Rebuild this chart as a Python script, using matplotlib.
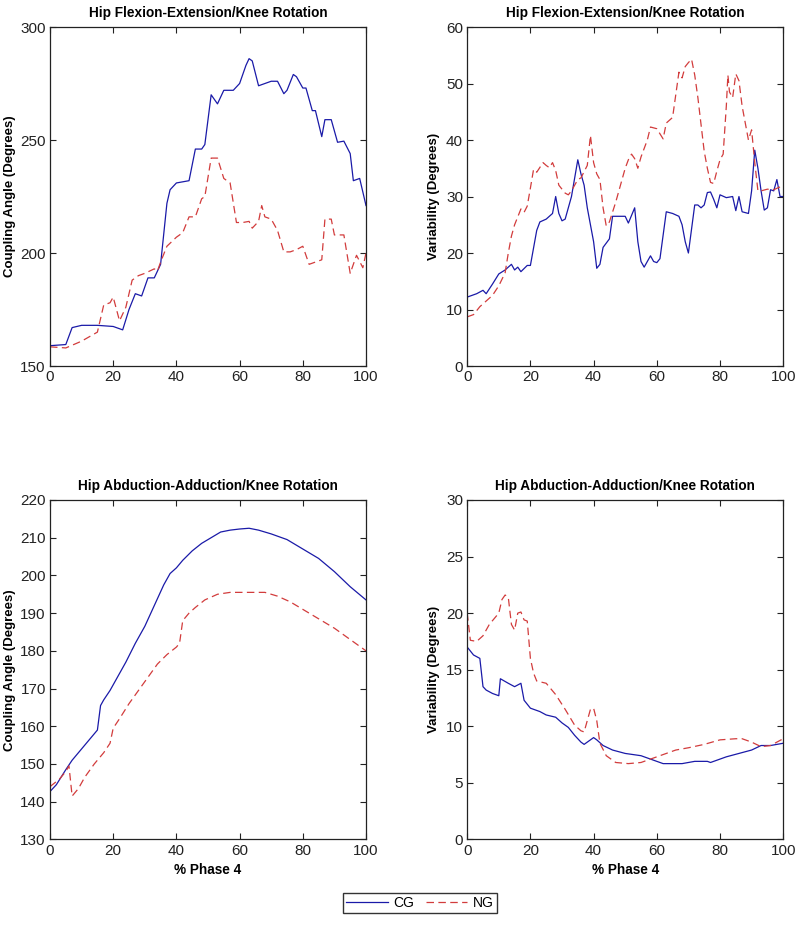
import numpy as np
import matplotlib
matplotlib.use('Agg')
import matplotlib.pyplot as plt

plt.rcParams['font.family'] = ['Liberation Sans', 'DejaVu Sans']

# Hip flexion-extension / knee rotation, coupling angle
fe_ca_cg_x = [0, 5, 7, 10, 15, 20, 23, 25, 27, 29, 31, 33, 35, 37, 38, 40, 42, 44, 46, 48, 49,
              51, 53, 55, 58, 60, 62, 63, 64, 66, 70, 72, 74, 75, 77, 78, 80, 81, 83, 84, 86,
              87, 89, 91, 93, 95, 96, 98, 100]
fe_ca_cg_y = [159, 159.5, 167, 168, 168, 167.5, 166, 175, 182, 181, 189, 189, 195, 222, 228, 231,
              231.5, 232, 246, 246, 248, 270, 266, 272, 272, 275, 283, 286, 285, 274, 276, 276,
              270.5, 272, 279, 278, 273, 273, 263, 263, 251.5, 259, 259, 249, 249.5, 244, 232,
              233, 221]
fe_ca_ng_x = [0, 5, 10, 15, 17, 19, 20, 22, 24, 26, 28, 30, 33, 34, 35, 37, 40, 42, 44, 46, 48,
              49, 51, 53, 55, 57, 59, 61, 63, 64, 66, 67, 68, 70, 72, 74, 76, 78, 80, 82, 84,
              86, 87, 89, 90, 93, 95, 97, 99, 100]
fe_ca_ng_y = [158.5, 158, 161, 165, 177, 178, 180.5, 170, 176, 188, 190, 191, 193, 192, 196, 203,
              207, 209, 216, 216, 224, 225, 242, 242, 233, 231, 213.5, 213.5, 214, 211, 214, 221,
              216, 215, 210, 200.5, 200.5, 201.5, 203, 195, 196, 197, 215, 215, 208, 208, 191,
              199, 193.5, 200]

# Hip flexion-extension / knee rotation, variability
fe_var_cg_x = [0, 3, 5, 6, 8, 10, 12, 13, 14, 15, 16, 17, 19, 20, 22, 23, 25, 27, 28, 29, 30, 31,
               33, 35, 36, 37, 38, 40, 41, 42, 43, 45, 46, 48, 50, 51, 53, 54, 55, 56, 58, 59,
               60, 61, 63, 65, 67, 68, 69, 70, 72, 73, 74, 75, 76, 77, 78, 79, 80, 82, 84, 85,
               86, 87, 89, 90, 91, 92, 93, 94, 95, 96, 97, 98, 99, 100]
fe_var_cg_y = [12.2, 12.8, 13.4, 12.8, 14.5, 16.3, 17, 17.5, 18, 17, 17.5, 16.7, 17.8, 17.8, 24,
               25.5, 26, 27, 30, 27, 25.7, 26, 30, 36.5, 34, 32, 28, 22, 17.3, 18, 21, 22.5,
               26.5, 26.5, 26.5, 25.3, 28, 22, 18.5, 17.5, 19.5, 18.5, 18.3, 19, 27.3, 27, 26.5,
               25, 22, 20, 28.5, 28.5, 28, 28.5, 30.7, 30.8, 29.5, 28, 30.3, 29.8, 30, 27.5, 30,
               27.3, 27, 31, 38.2, 35, 31, 27.6, 28, 31.2, 31, 33, 30, 30]
fe_var_ng_x = [0, 2, 4, 6, 8, 10, 12, 13, 14, 15, 17, 18, 19, 20, 21, 22, 24, 25, 26, 27, 28, 29,
               31, 32, 33, 35, 36, 38, 39, 40, 41, 42, 43, 44, 45, 47, 49, 50, 51, 52, 53, 54,
               55, 56, 57, 58, 60, 62, 63, 65, 66, 67, 68, 69, 70, 71, 72, 73, 75, 76, 77, 78,
               79, 80, 81, 82, 82.5, 83, 84, 85, 86, 87, 88, 89, 90, 91, 92, 93, 95, 97, 99, 100]
fe_var_ng_y = [8.7, 9.1, 10.5, 11.5, 12.5, 14.2, 16.5, 20, 23, 25, 27.8, 27.2, 28.3, 31.5, 34.8,
               34.3, 36, 35.5, 35.1, 36, 34.6, 32, 30.6, 30.3, 31, 33, 33.3, 35.5, 40.8, 36, 34,
               33, 28, 24.8, 25.5, 29, 33, 35, 36.5, 37.5, 36.7, 35, 37, 38.5, 40, 42.3, 42,
               40.2, 43, 44, 48, 52, 51, 53, 53.7, 54.3, 51.5, 47.5, 38, 35, 32.5, 32.3, 34.5,
               36.5, 37.5, 46, 51.5, 48.5, 47.5, 51.7, 50.5, 46, 43, 40, 41.8, 36, 31, 31, 31.3,
               31.2, 31.7, 32]

# Hip abduction-adduction / knee rotation, coupling angle
aa_ca_cg_x = [0, 2, 5, 7, 10, 12, 15, 16, 17, 19, 21, 24, 27, 30, 33, 36, 38, 40, 42, 45, 48, 51,
              54, 57, 60, 63, 66, 70, 75, 80, 85, 90, 95, 100]
aa_ca_cg_y = [142.7, 144.5, 148.5, 151, 154, 156, 159, 165.5, 167, 169.5, 172.5, 177, 182, 186.5,
              192, 197.5, 200.5, 202, 204, 206.5, 208.5, 210, 211.5, 212, 212.3, 212.5, 212,
              211, 209.5, 207, 204.5, 201, 197, 193.5]
aa_ca_ng_x = [0, 3, 5, 6, 7, 9, 11, 14, 17, 19, 20, 22, 25, 28, 31, 34, 37, 40, 41, 42, 44, 46,
              49, 53, 57, 61, 68, 72, 76, 80, 85, 90, 95, 100]
aa_ca_ng_y = [144, 146, 148, 149.5, 141.5, 143.5, 146.5, 150, 153, 155.5, 159.5, 162, 166, 169.5,
              173, 176.5, 179, 181, 182, 188, 190, 191.5, 193.5, 195, 195.5, 195.5, 195.5,
              194.5, 193, 191, 188.5, 186, 183, 180]

# Hip abduction-adduction / knee rotation, variability
aa_var_cg_x = [0, 2, 4, 5, 6, 8, 10, 10.5, 13, 15, 17, 18, 20, 23, 25, 28, 30, 32, 34, 36, 37,
               38, 40, 41, 43, 46, 50, 55, 58, 60, 62, 68, 72, 76, 77, 79, 82, 86, 90, 93, 96,
               100]
aa_var_cg_y = [17, 16.3, 16, 13.5, 13.2, 12.9, 12.7, 14.2, 13.8, 13.5, 13.8, 12.3, 11.6, 11.3,
               11.0, 10.8, 10.3, 9.9, 9.2, 8.6, 8.4, 8.6, 9.0, 8.8, 8.3, 7.9, 7.6, 7.4, 7.1, 6.9,
               6.7, 6.7, 6.9, 6.9, 6.8, 7.0, 7.3, 7.6, 7.9, 8.3, 8.3, 8.5]
aa_var_ng_x = [0, 1, 3, 5, 7, 10, 11, 12, 13, 14, 15, 16, 17, 18, 19, 20, 21, 22, 25, 28, 31, 34,
               36, 37, 38, 39, 40, 41, 42, 44, 47, 51, 55, 58, 62, 66, 70, 75, 80, 85, 87, 90,
               93, 96, 100]
aa_var_ng_y = [20, 17.6, 17.5, 18, 19, 20, 21.2, 21.6, 21.4, 19, 18.5, 20, 20.1, 19.4, 19.3, 16,
               14.7, 14, 13.8, 12.8, 11.5, 10.1, 9.6, 9.5, 10.5, 11.5, 11.6, 10.5, 8.5, 7.4, 6.8,
               6.7, 6.8, 7.1, 7.5, 7.9, 8.1, 8.4, 8.8, 8.9, 8.9, 8.6, 8.2, 8.3, 8.9]

title_fe = 'Hip Flexion-Extension/Knee Rotation'
title_aa = 'Hip Abduction-Adduction/Knee Rotation'

panels = [
    # (position, title, data, ylim, yticks, ylabel, xlabel, ylabel x in axes coords)
    ([0.0625, 0.6043, 0.395, 0.3665], title_fe,
     (fe_ca_cg_x, fe_ca_cg_y, fe_ca_ng_x, fe_ca_ng_y),
     (150, 300), np.arange(150, 301, 50), 'Coupling Angle (Degrees)', None, -0.107),
    ([0.584, 0.6043, 0.395, 0.3665], title_fe,
     (fe_var_cg_x, fe_var_cg_y, fe_var_ng_x, fe_var_ng_y),
     (0, 60), np.arange(0, 61, 10), 'Variability (Degrees)', None, -0.085),
    ([0.0625, 0.0925, 0.395, 0.367], title_aa,
     (aa_ca_cg_x, aa_ca_cg_y, aa_ca_ng_x, aa_ca_ng_y),
     (130, 220), np.arange(130, 221, 10), 'Coupling Angle (Degrees)', '% Phase 4', -0.107),
    ([0.584, 0.0925, 0.395, 0.367], title_aa,
     (aa_var_cg_x, aa_var_cg_y, aa_var_ng_x, aa_var_ng_y),
     (0, 30), np.arange(0, 31, 5), 'Variability (Degrees)', '% Phase 4', -0.085),
]

fig = plt.figure(figsize=(8, 9.25), dpi=100)

for pos, title, (cx, cy, nx, ny), ylim, yt, ylab, xlab, ylx in panels:
    ax = fig.add_axes(pos)
    l1, = ax.plot(cx, cy, color='#1a1aa8', lw=0.9, label='CG')
    l2, = ax.plot(nx, ny, color='#d23c3c', lw=0.9, ls=(0, (6, 3.5)), label='NG')
    ax.set_xlim(0, 100)
    ax.set_ylim(*ylim)
    ax.set_xticks(np.arange(0, 101, 20))
    ax.set_yticks(yt)
    ax.tick_params(direction='in', top=True, right=True, length=4, width=0.8,
                   labelsize=11, colors='#222222', pad=3)
    for s in ax.spines.values():
        s.set_linewidth(0.9)
        s.set_color('#222222')
    ax.set_title(title, fontsize=9.8, fontweight='bold', pad=7)
    ax.set_ylabel(ylab, fontsize=9.5, fontweight='bold')
    ax.yaxis.set_label_coords(ylx, 0.5)
    if xlab:
        ax.set_xlabel(xlab, fontsize=9.8, fontweight='bold', labelpad=4)

fig.legend([l1, l2], ['CG', 'NG'], loc='center', bbox_to_anchor=(0.525, 0.0238),
           ncol=2, fontsize=10, frameon=True, fancybox=False, edgecolor='black',
           handlelength=3.0, columnspacing=0.8, handletextpad=0.4, borderpad=0.25)

fig.savefig('out.png', dpi=100)
